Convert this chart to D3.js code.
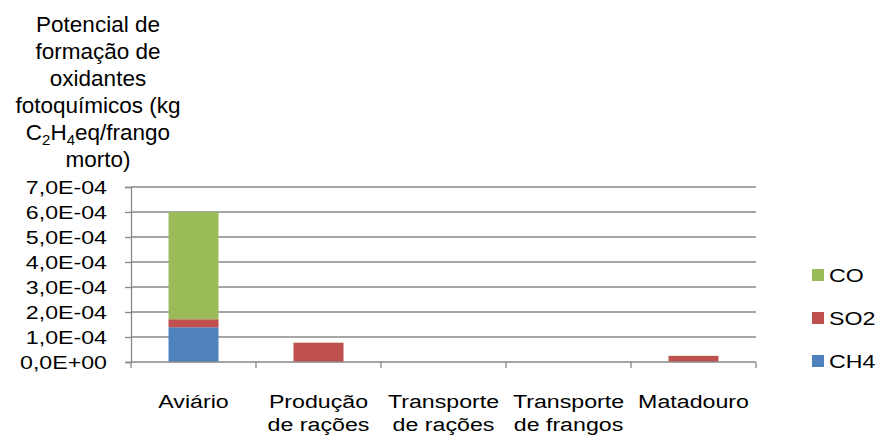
<!DOCTYPE html>
<html>
<head>
<meta charset="utf-8">
<script src="https://cdn.jsdelivr.net/npm/d3@7"></script>
<style>
  html, body { margin: 0; padding: 0; background: #fff; }
  svg { display: block; font-family: Arial, "Liberation Sans", sans-serif; }
</style>
</head>
<body>
<svg id="chart" width="880" height="439"></svg>
<script>
// Categories (stages of the chain) and emissions per series, kg C2H4 eq per bird
const categories = ["Aviário", "Produção de rações", "Transporte de rações", "Transporte de frangos", "Matadouro"];
const categoryLines = [["Aviário"], ["Produção", "de rações"], ["Transporte", "de rações"], ["Transporte", "de frangos"], ["Matadouro"]];
const seriesNames = ["CH4", "SO2", "CO"];
const ch4 = [1.39e-4, 0, 0, 0, 0];
const so2 = [0.32e-4, 0.77e-4, 0, 0, 0.24e-4];
const co  = [4.29e-4, 0.01e-4, 0, 0, 0.01e-4];
const yTicks = [0, 1e-4, 2e-4, 3e-4, 4e-4, 5e-4, 6e-4, 7e-4];
const colors = { CO: "#9BBB59", SO2: "#C0504D", CH4: "#4F81BD" };
const legendOrder = ["CO", "SO2", "CH4"];

const svg = d3.select("#chart");
const plot = { left: 131, right: 756, top: 187, bottom: 362 };
const gridColor = "#888888";
const textStretch = 1.22;
const labelSize = 19;

const x = d3.scaleBand().domain(categories).range([plot.left, plot.right]).padding(0);
const y = d3.scaleLinear().domain([0, 7e-4]).range([plot.bottom, plot.top]);

// Stack the series in drawing order (bottom to top)
const rows = categories.map((c, i) => ({ cat: c, CH4: ch4[i], SO2: so2[i], CO: co[i] }));
const stacked = d3.stack().keys(seriesNames)(rows);

// Horizontal gridlines
svg.append("g")
  .selectAll("line")
  .data(yTicks.filter(t => t > 0))
  .join("line")
  .attr("x1", plot.left).attr("x2", plot.right)
  .attr("y1", d => y(d)).attr("y2", d => y(d))
  .attr("stroke", gridColor).attr("stroke-width", 1.3);

// Bars
const barW = x.bandwidth() / 2.5;
svg.append("g")
  .selectAll("g")
  .data(stacked)
  .join("g")
  .attr("fill", d => colors[d.key])
  .selectAll("rect")
  .data(d => d)
  .join("rect")
  .attr("x", d => x(d.data.cat) + (x.bandwidth() - barW) / 2)
  .attr("width", barW)
  .attr("y", d => y(d[1]))
  .attr("height", d => Math.max(0, y(d[0]) - y(d[1])));

// Y axis
const fmt = v => {
  if (v === 0) return "0,0E+00";
  const e = Math.floor(Math.log10(v) + 1e-9);
  const m = v / Math.pow(10, e);
  return m.toFixed(1).replace(".", ",") + "E-" + String(-e).padStart(2, "0");
};
const yAxis = d3.axisLeft(y).tickValues(yTicks).tickSize(6).tickPadding(0).tickFormat(fmt);
const gy = svg.append("g").attr("transform", `translate(${plot.left},0)`).call(yAxis);
gy.select(".domain").attr("stroke", gridColor).attr("stroke-width", 1.3);
gy.selectAll(".tick line").attr("stroke", gridColor).attr("stroke-width", 1.3);
gy.selectAll(".tick text")
  .attr("x", null).attr("dy", null)
  .attr("fill", "#000")
  .style("font-size", labelSize + "px")
  .attr("text-anchor", "end")
  .attr("dominant-baseline", "central")
  .attr("transform", `translate(-24,0) scale(${textStretch},1)`);

// X axis with tick marks at category boundaries
const gx = svg.append("g").attr("transform", `translate(0,${plot.bottom})`);
gx.append("line").attr("x1", plot.left).attr("x2", plot.right)
  .attr("stroke", gridColor).attr("stroke-width", 1.3);
const bounds = categories.map(c => x(c)).concat([x(categories[categories.length - 1]) + x.bandwidth()]);
gx.selectAll("line.b").data(bounds).join("line").attr("class", "b")
  .attr("x1", d => d).attr("x2", d => d).attr("y1", 0).attr("y2", 6)
  .attr("stroke", gridColor).attr("stroke-width", 1.3);

// Category labels
const catG = svg.append("g");
categories.forEach((c, i) => {
  const cx = x(c) + x.bandwidth() / 2;
  const t = catG.append("text")
    .attr("transform", `translate(${cx},408) scale(${textStretch},1)`)
    .attr("text-anchor", "middle")
    .style("font-size", labelSize + "px");
  categoryLines[i].forEach((ln, j) => {
    t.append("tspan").attr("x", 0).attr("y", j * 23).text(ln);
  });
});

// Axis title
const title = svg.append("text")
  .attr("text-anchor", "middle")
  .style("font-size", "22.5px");
const titleLines = ["Potencial de", "formação de", "oxidantes", "fotoquímicos (kg", null, "morto)"];
titleLines.forEach((ln, j) => {
  const by = 31.5 + j * 27;
  if (ln !== null) {
    title.append("tspan").attr("x", 98).attr("y", by).text(ln);
  }
});
// Line with subscripts: C2H4eq/frango
const sub = svg.append("text")
  .attr("x", 98).attr("y", 31.5 + 4 * 27)
  .attr("text-anchor", "middle")
  .style("font-size", "22.5px");
sub.append("tspan").text("C");
sub.append("tspan").text("2").style("font-size", "15px").attr("dy", 5);
sub.append("tspan").text("H").attr("dy", -5);
sub.append("tspan").text("4").style("font-size", "15px").attr("dy", 5);
sub.append("tspan").text("eq/frango").attr("dy", -5);

// Legend
const legend = svg.append("g");
legendOrder.forEach((k, i) => {
  const cy = 275 + i * 43;
  legend.append("rect").attr("x", 812).attr("y", cy - 6).attr("width", 12).attr("height", 12)
    .attr("fill", colors[k]);
  legend.append("text")
    .attr("transform", `translate(829,${cy}) scale(${textStretch},1)`)
    .attr("dominant-baseline", "central")
    .style("font-size", labelSize + "px")
    .text(k);
});
</script>
</body>
</html>
